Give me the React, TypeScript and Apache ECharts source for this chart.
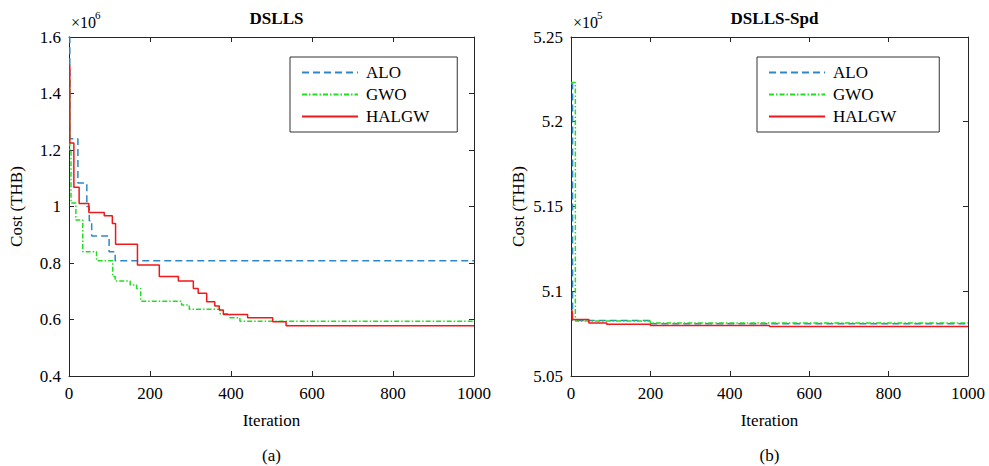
import React, { useEffect, useRef } from "react";
import * as echarts from "echarts";

// ---------- data ----------
const seriesNames = ["ALO", "GWO", "HALGW"];
const titles = ["DSLLS", "DSLLS-Spd"];
const captions = ["(a)", "(b)"];

// (a) DSLLS, cost in units of 1e6 THB
const aloIterA = [0, 2, 22, 44, 50, 56, 99, 114, 1000];
const aloCostA = [1.6, 1.24, 1.083, 1.0, 0.95, 0.896, 0.84, 0.808, 0.808];
const gwoIterA = [0, 2, 5, 17, 34, 68, 108, 114, 151, 167, 177, 278, 297, 373, 397, 422, 1000];
const gwoCostA = [1.45, 1.2, 1.012, 0.952, 0.84, 0.808, 0.752, 0.736, 0.722, 0.71, 0.665, 0.651, 0.636, 0.62, 0.606, 0.594, 0.594];
const halIterA = [0, 2, 12, 25, 49, 87, 107, 115, 169, 223, 270, 307, 319, 340, 360, 371, 381, 441, 503, 536, 1000];
const halCostA = [1.5, 1.225, 1.068, 1.011, 0.979, 0.967, 0.94, 0.866, 0.793, 0.752, 0.736, 0.71, 0.693, 0.663, 0.648, 0.634, 0.618, 0.606, 0.592, 0.578, 0.578];

// (b) DSLLS-Spd, cost in units of 1e5 THB
const aloIterB = [0, 4, 200, 1000];
const aloCostB = [5.2222, 5.0828, 5.0808, 5.0805];
const gwoIterB = [0, 11, 200, 1000];
const gwoCostB = [5.2232, 5.0825, 5.0812, 5.0811];
const halIterB = [0, 3, 45, 90, 200, 500, 1000];
const halCostB = [5.0885, 5.0834, 5.0812, 5.0805, 5.0798, 5.0792, 5.0792];

const exponents = ["6", "5"];

// ---------- styling ----------
const FONT = "Liberation Serif";
const AX = "#262626";
const COLORS = ["#2f87c6", "#22dd22", "#f01818"];
const DASHES: any[] = [[7, 4], [5, 2, 1.5, 2], "solid"];

const pairs = (xs: number[], ys: number[]) => xs.map((x, i) => [x, ys[i]]);
const fmt = (v: number) => String(parseFloat(v.toFixed(2)));

function xAxes(gridIndex: number) {
  const base: any = {
    type: "value",
    gridIndex,
    min: 0,
    max: 1000,
    interval: 200,
    axisLine: { show: true, onZero: false, lineStyle: { color: AX, width: 1 } },
    axisTick: { show: true, inside: true, length: 5, lineStyle: { color: AX } },
    splitLine: { show: false },
  };
  return [
    {
      ...base,
      position: "bottom",
      axisLabel: { fontFamily: FONT, fontSize: 17, color: "#000", margin: 9, formatter: (v: number) => String(v) },
      name: "Iteration",
      nameLocation: "middle",
      nameGap: 36,
      nameTextStyle: { fontFamily: FONT, fontSize: 17, color: "#000" },
    },
    { ...base, position: "top", axisLabel: { show: false } },
  ];
}

function yAxes(gridIndex: number, min: number, max: number, interval: number) {
  const base: any = {
    type: "value",
    gridIndex,
    min,
    max,
    interval,
    axisLine: { show: true, onZero: false, lineStyle: { color: AX, width: 1 } },
    axisTick: { show: true, inside: true, length: 5, lineStyle: { color: AX } },
    splitLine: { show: false },
  };
  return [
    {
      ...base,
      position: "left",
      axisLabel: { fontFamily: FONT, fontSize: 17, color: "#000", margin: 8, formatter: fmt },
      name: "Cost (THB)",
      nameLocation: "middle",
      nameGap: 44,
      nameTextStyle: { fontFamily: FONT, fontSize: 17, color: "#000" },
    },
    { ...base, position: "right", axisLabel: { show: false } },
  ];
}

function lineSeries(idx: number, data: number[][], axisIndex: number) {
  return {
    name: seriesNames[idx],
    type: "line",
    step: "end",
    symbol: "none",
    showSymbol: false,
    xAxisIndex: axisIndex,
    yAxisIndex: axisIndex,
    data,
    color: COLORS[idx],
    lineStyle: { color: COLORS[idx], width: 1.5, type: DASHES[idx] },
    z: 2 + idx,
  };
}

function legend(left: number, padRight: number) {
  return {
    data: seriesNames,
    orient: "vertical",
    left,
    top: 57,
    padding: [7, padRight, 7, 11],
    itemGap: 5,
    itemWidth: 56,
    itemHeight: 14,
    borderColor: "#333",
    borderWidth: 1,
    borderRadius: 0,
    backgroundColor: "#fff",
    selectedMode: false,
    itemStyle: { opacity: 0 },
    textStyle: { fontFamily: FONT, fontSize: 17, color: "#000", padding: [0, 0, 0, 3] },
  };
}

export default function App() {
  const ref = useRef<HTMLDivElement>(null);
  useEffect(() => {
    const chart = echarts.init(ref.current!, null, { renderer: "svg" });
    const option: any = {
      animation: false,
      backgroundColor: "#fff",
      textStyle: { fontFamily: FONT, color: "#000" },
      grid: [
        { left: 69, top: 37, width: 405, height: 339 },
        { left: 571, top: 37, width: 397, height: 339 },
      ],
      title: [
        {
          text: titles[0],
          left: 271.5,
          top: 5,
          textAlign: "center",
          textStyle: { fontFamily: FONT, fontSize: 17, fontWeight: "bold", color: "#000" },
        },
        {
          text: titles[1],
          left: 769.5,
          top: 5,
          textAlign: "center",
          textStyle: { fontFamily: FONT, fontSize: 17, fontWeight: "bold", color: "#000" },
        },
      ],
      legend: [legend(290, 28), legend(757, 43)],
      xAxis: [...xAxes(0), ...xAxes(1)],
      yAxis: [...yAxes(0, 0.4, 1.6, 0.2), ...yAxes(1, 5.05, 5.25, 0.05)],
      series: [
        lineSeries(0, pairs(aloIterA, aloCostA), 0),
        lineSeries(1, pairs(gwoIterA, gwoCostA), 0),
        lineSeries(2, pairs(halIterA, halCostA), 0),
        lineSeries(0, pairs(aloIterB, aloCostB), 2),
        lineSeries(1, pairs(gwoIterB, gwoCostB), 2),
        lineSeries(2, pairs(halIterB, halCostB), 2),
      ],
      graphic: [
        { type: "text", left: 71, top: 14, style: { text: "×10", fontFamily: FONT, fontSize: 16, fill: "#000" } },
        { type: "text", left: 95, top: 9, style: { text: exponents[0], fontFamily: FONT, fontSize: 11, fill: "#000" } },
        { type: "text", left: 573, top: 14, style: { text: "×10", fontFamily: FONT, fontSize: 16, fill: "#000" } },
        { type: "text", left: 597, top: 9, style: { text: exponents[1], fontFamily: FONT, fontSize: 11, fill: "#000" } },
        { type: "text", x: 271.5, y: 455, style: { text: captions[0], fontFamily: FONT, fontSize: 17, fill: "#000", align: "center", verticalAlign: "middle" } },
        { type: "text", x: 769.5, y: 455, style: { text: captions[1], fontFamily: FONT, fontSize: 17, fill: "#000", align: "center", verticalAlign: "middle" } },
      ],
    };
    chart.setOption(option);
    return () => chart.dispose();
  }, []);
  return (
    <div
      ref={ref}
      style={{ position: "absolute", left: 0, top: 0, width: 989, height: 466, background: "#fff" }}
    />
  );
}
